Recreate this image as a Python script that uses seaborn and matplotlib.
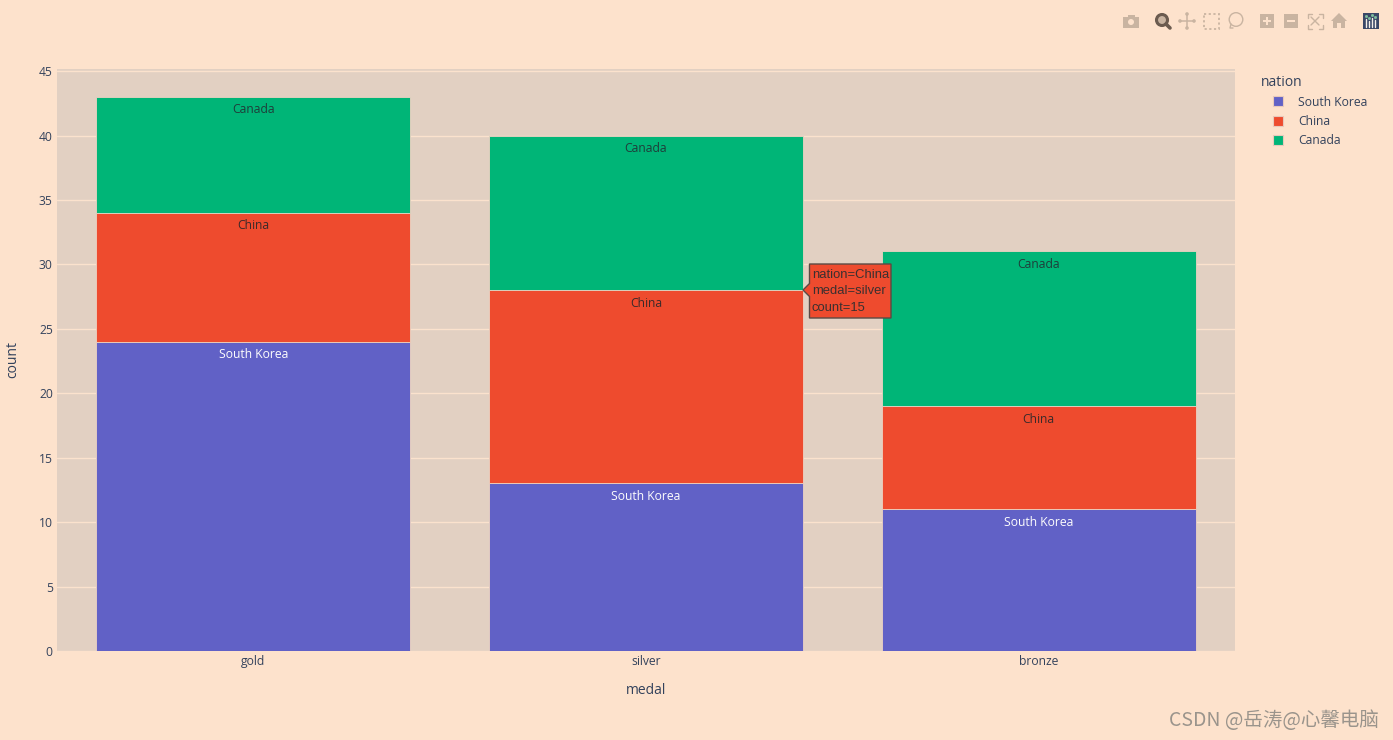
import numpy as np
import pandas as pd
import seaborn as sns
import matplotlib.pyplot as plt
from matplotlib.patches import Rectangle, Polygon, Circle, Patch

medals = ['gold', 'silver', 'bronze']
nations = ['South Korea', 'China', 'Canada']
south_korea = [24, 13, 11]
china = [10, 15, 8]
canada = [9, 12, 12]
y_ticks = [0, 5, 10, 15, 20, 25, 30, 35, 40, 45]

paper = '#fde2cc'
plot_bg = '#e2d0c2'
grid_col = '#fbe2cd'
colors = ['#6161c6', '#ee4b2e', '#00b577']
label_cols = ['#fdfdfd', '#3a2a2a', '#1f3d3a']
text_col = '#33425c'
icon_col = '#c9b4a1'

df = pd.DataFrame({
    'medal': medals * 3,
    'nation': np.repeat(nations, 3),
    'count': south_korea + china + canada,
})

sns.set_theme(style='whitegrid')
plt.rcParams['font.family'] = ['Open Sans', 'DejaVu Sans']

W, H = 1393, 740
fig = plt.figure(figsize=(W / 100, H / 100), dpi=100, facecolor=paper)
ax = fig.add_axes([57 / W, 1 - 651 / H, 1178 / W, 582.5 / H], facecolor=plot_bg)

# stacked bars, one barplot per nation
bottoms = np.zeros(3)
for nation, col, lab_col in zip(nations, colors, label_cols):
    sub = df[df['nation'] == nation]
    sns.barplot(data=sub, x='medal', y='count', order=medals, color=col, saturation=1,
                width=0.8, bottom=bottoms, errorbar=None, ax=ax,
                edgecolor='#ecd2c2', linewidth=0.6)
    ax.bar_label(ax.containers[-1], labels=[nation] * 3, label_type='edge', padding=-14,
                 color=lab_col, fontsize=8.7)
    bottoms = bottoms + sub['count'].values

ax.set_xlim(-0.5, 2.5)
ax.set_ylim(0, 45.2)
ax.set_yticks(y_ticks)
ax.set_axisbelow(True)
ax.grid(False, axis='x')
ax.grid(True, axis='y', color=grid_col, linewidth=1)
sns.despine(ax=ax, left=True, bottom=True)
ax.tick_params(axis='both', length=0, labelsize=8.7, labelcolor=text_col)
ax.tick_params(axis='x', pad=3)
ax.tick_params(axis='y', pad=3)
ax.set_xlabel('medal', fontsize=10, color=text_col)
ax.set_ylabel('count', fontsize=10, color=text_col)
ax.xaxis.set_label_coords(0.5, -(691 - 651) / 582.5, transform=ax.transAxes)
ax.xaxis.label.set_va('center')
ax.yaxis.set_label_coords(-(57 - 13) / 1178, 0.5, transform=ax.transAxes)
ax.yaxis.label.set_va('center')

handles = [Patch(facecolor=c, edgecolor='#e8c9bb', linewidth=0.8) for c in colors]
leg = ax.legend(handles, nations, loc='upper left',
                bbox_to_anchor=(1272.5 / W, 1 - 95.5 / H), bbox_transform=fig.transFigure,
                frameon=False, fontsize=8.7, handlelength=0.91,
                handleheight=0.91, handletextpad=1.24, labelspacing=0.53, borderaxespad=0,
                borderpad=0)
for t in leg.get_texts():
    t.set_color(text_col)

# overlay in pixel coordinates for legend title, tooltip, toolbar and watermark
ov = fig.add_axes([0, 0, 1, 1], facecolor='none')
ov.set_xlim(0, W)
ov.set_ylim(H, 0)
ov.axis('off')

ov.text(1261, 82.5, 'nation', fontsize=10, color=text_col, ha='left', va='center')

# tooltip on silver / China
ov.add_patch(Polygon([(803, 290), (809.5, 283.5), (809.5, 264), (891, 264), (891, 318),
                      (809.5, 318), (809.5, 296.5)], closed=True, facecolor=colors[1],
                     edgecolor='#5a4a44', linewidth=1))
tip = f"nation={nations[1]}\nmedal={medals[1]}\ncount={china[1]}"
ov.text(812, 291.5, tip, family='Liberation Sans', fontsize=9.4, color='#3a3030', va='center',
        ha='left', linespacing=1.5)

# modebar icons
def box(x, y, w, h, **kw):
    ov.add_patch(Rectangle((x - w / 2, y - h / 2), w, h, **kw))

# camera
box(1131, 22, 16, 11, facecolor=icon_col, edgecolor='none')
box(1131, 16, 7, 2, facecolor=icon_col, edgecolor='none')
ov.add_patch(Circle((1131, 22), 3, facecolor=paper, edgecolor='none'))
# zoom, active
ov.add_patch(Circle((1162, 20), 5.5, facecolor=icon_col, edgecolor='#6b5b4f', linewidth=2.2))
ov.plot([1166, 1170], [24, 28], color='#6b5b4f', lw=2.6, solid_capstyle='round')
# pan
ov.plot([1180, 1194], [21, 21], color=icon_col, lw=1.1)
ov.plot([1187, 1187], [14, 28], color=icon_col, lw=1.1)
for px, py in [(1180, 21), (1194, 21), (1187, 14), (1187, 28)]:
    ov.add_patch(Circle((px, py), 1.8, facecolor=icon_col, edgecolor='none'))
# box select
box(1211, 21, 15, 15, facecolor='none', edgecolor=icon_col, linewidth=1.3, linestyle=(0, (1.2, 1.4)))
# lasso
ov.add_patch(Circle((1236, 19.5), 6.8, facecolor='none', edgecolor=icon_col, linewidth=1))
ov.plot([1231, 1230, 1233], [24, 28, 28], color=icon_col, lw=1)
# zoom in / out
box(1267, 21, 14, 14, facecolor=icon_col, edgecolor='none')
box(1267, 21, 8, 2, facecolor=paper, edgecolor='none')
box(1267, 21, 2, 8, facecolor=paper, edgecolor='none')
box(1291, 21, 14, 14, facecolor=icon_col, edgecolor='none')
box(1291, 21, 8, 2, facecolor=paper, edgecolor='none')
# autoscale
for sx in [-1, 1]:
    for sy in [-1, 1]:
        cx, cy = 1315 + 7.5 * sx, 21 + 7.5 * sy
        ov.plot([cx - 4 * sx, cx, cx], [cy, cy, cy - 4 * sy], color=icon_col, lw=1)
ov.plot([1311, 1319], [17, 25], color=icon_col, lw=1)
ov.plot([1311, 1319], [25, 17], color=icon_col, lw=1)
# home
ov.add_patch(Polygon([(1339, 13), (1347, 21), (1345, 21), (1345, 28), (1341, 28), (1341, 23),
                      (1337, 23), (1337, 28), (1333, 28), (1333, 21), (1331, 21)],
                     facecolor=icon_col, edgecolor='none'))
# plotly logo
box(1371, 21, 16, 16, facecolor='#3a4767', edgecolor='none')
for px, top in zip([1366, 1369, 1372, 1375], [19, 21, 18, 20]):
    ov.plot([px, px], [top, 27], color='#f4efe8', lw=1)
    ov.plot([px], [top - 3], marker='s', ms=1, color='#7fbf9f')

# watermark
ov.text(1379, 721, 'CSDN @岳涛@心馨电脑', family=['Noto Sans CJK SC', 'DejaVu Sans'], fontsize=14,
        color='#9a948c', ha='right', va='center')

fig.savefig('out.png', dpi=100, facecolor=paper)
